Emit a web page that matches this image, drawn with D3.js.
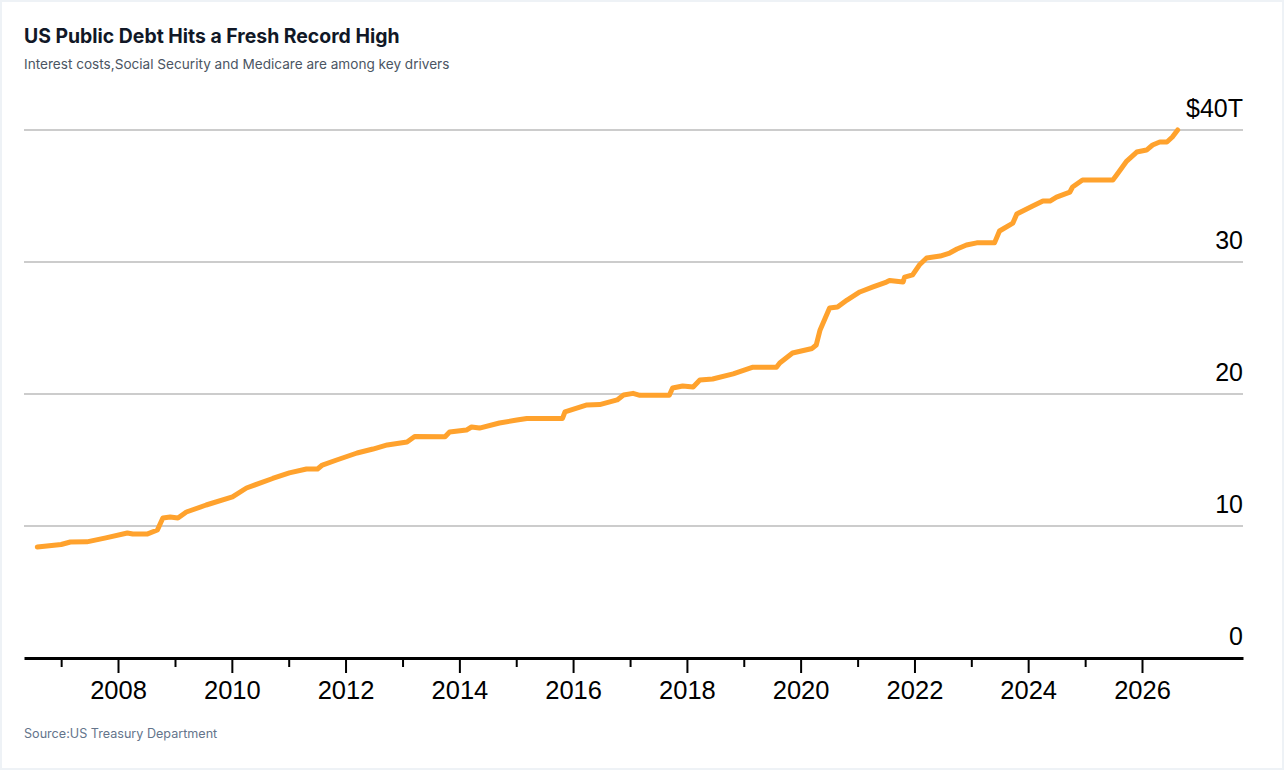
<!DOCTYPE html>
<html>
<head>
<meta charset="utf-8">
<script src="https://cdn.jsdelivr.net/npm/d3@7"></script>
<style>
  html, body { margin: 0; padding: 0; background: #eef2f6; }
  #chart { position: absolute; left: 2px; top: 2px; width: 1280px; height: 766px; background: #fff; }
  svg { display: block; }
</style>
</head>
<body>
<div id="chart"></div>
<script>
// debt outstanding, trillions of dollars
const dates = [
  '2006-08-01', '2007-01-01', '2007-03-01', '2007-06-15', '2007-10-15', '2008-03-01', '2008-04-05',
  '2008-07-05', '2008-09-10', '2008-10-15', '2008-12-01', '2009-01-20', '2009-03-15',
  '2009-07-20', '2010-01-05', '2010-04-05', '2010-09-20', '2011-01-05', '2011-04-25',
  '2011-07-05', '2011-08-05', '2011-11-05', '2012-03-15', '2012-06-25', '2012-09-25',
  '2013-01-30', '2013-03-20', '2013-10-01', '2013-10-30', '2014-02-15', '2014-03-20',
  '2014-05-10', '2014-09-15', '2015-01-05', '2015-03-10', '2015-10-25', '2015-11-10',
  '2016-03-30', '2016-06-20', '2016-10-10', '2016-11-20', '2017-01-20', '2017-03-05',
  '2017-09-10', '2017-10-01', '2017-12-05', '2018-02-10', '2018-03-25', '2018-06-15',
  '2018-10-25', '2019-03-01', '2019-07-30', '2019-08-20', '2019-11-10', '2020-03-15',
  '2020-04-10', '2020-05-05', '2020-07-05', '2020-08-25', '2020-10-25', '2021-01-15',
  '2021-04-10', '2021-07-05', '2021-07-25', '2021-10-20', '2021-10-30', '2021-12-20',
  '2022-02-01', '2022-03-20', '2022-06-15', '2022-08-15', '2022-10-01', '2022-12-01',
  '2023-02-05', '2023-05-30', '2023-07-01', '2023-09-25', '2023-10-20', '2024-01-30',
  '2024-04-05', '2024-05-20', '2024-07-01', '2024-09-25', '2024-10-12', '2024-12-15',
  '2025-06-28', '2025-07-22', '2025-09-25', '2025-11-28', '2026-01-30', '2026-03-10',
  '2026-04-25', '2026-06-10', '2026-07-15', '2026-08-18'
];
const debt = [
  8.41, 8.60, 8.79, 8.80, 9.10, 9.47, 9.39,
  9.39, 9.70, 10.61, 10.68, 10.61, 11.06,
  11.59, 12.20, 12.88, 13.60, 14.02, 14.32,
  14.32, 14.62, 15.00, 15.53, 15.83, 16.14,
  16.36, 16.78, 16.76, 17.12, 17.27, 17.50,
  17.42, 17.80, 18.03, 18.15, 18.15, 18.64,
  19.17, 19.20, 19.55, 19.92, 20.05, 19.90,
  19.90, 20.45, 20.61, 20.53, 21.06, 21.14,
  21.52, 22.03, 22.03, 22.35, 23.11, 23.45,
  23.71, 24.85, 26.52, 26.59, 27.12, 27.73,
  28.11, 28.48, 28.60, 28.48, 28.86, 29.02,
  29.77, 30.30, 30.45, 30.68, 30.98, 31.29,
  31.45, 31.45, 32.35, 32.95, 33.64, 34.24,
  34.62, 34.62, 34.92, 35.30, 35.68, 36.21,
  36.21, 36.59, 37.65, 38.33, 38.48, 38.86,
  39.09, 39.09, 39.47, 40.00
];
const yTicks = [0, 10, 20, 30, 40];
const xYears = d3.range(2007, 2027);

const title = 'US Public Debt Hits a Fresh Record High';
const subtitle = 'Interest costs,Social Security and Medicare are among key drivers';
const source = 'Source:US Treasury Department';

const width = 1280, height = 766;
const plot = { left: 22, right: 1241, top: 128, bottom: 656 };

const parse = d3.timeParse('%Y-%m-%d');
const data = dates.map((d, i) => ({ date: parse(d), value: debt[i] }));

const svg = d3.select('#chart').append('svg')
  .attr('width', width)
  .attr('height', height);

// 2008 and 2026 sit at fixed spots; extend the scale out to the plot edges
const xRef = d3.scaleTime()
  .domain([new Date(2008, 0, 1), new Date(2026, 0, 1)])
  .range([116, 1140]);
const x = d3.scaleTime()
  .domain([xRef.invert(plot.left), xRef.invert(plot.right)])
  .range([plot.left, plot.right]);

const y = d3.scaleLinear()
  .domain([0, 40])
  .range([plot.bottom, plot.top]);

// titles
svg.append('text')
  .attr('x', plot.left).attr('y', 41)
  .style('font-family', 'Inter, sans-serif')
  .style('font-weight', 700)
  .style('font-size', '19.4px')
  .style('fill', '#111827')
  .text(title);

svg.append('text')
  .attr('x', plot.left).attr('y', 67)
  .style('font-family', 'Inter, sans-serif')
  .style('font-size', '13.6px')
  .style('fill', '#4b5563')
  .text(subtitle);

// gridlines
svg.append('g')
  .selectAll('line')
  .data(yTicks.filter(d => d > 0))
  .enter()
  .append('line')
  .attr('x1', plot.left).attr('x2', plot.right)
  .attr('y1', d => y(d)).attr('y2', d => y(d))
  .attr('stroke', '#cccccc')
  .attr('stroke-width', 2);

// y labels, right aligned above each line
svg.append('g')
  .selectAll('text')
  .data(yTicks)
  .enter()
  .append('text')
  .attr('x', plot.right)
  .attr('y', d => y(d) - 13)
  .attr('text-anchor', 'end')
  .style('font-family', '"Liberation Sans", Arial, sans-serif')
  .style('font-size', '25px')
  .style('fill', '#000')
  .text(d => d === 40 ? '$40T' : d);

// x axis
const xAxis = d3.axisBottom(x)
  .tickValues(xYears.map(yr => new Date(yr, 0, 1)))
  .tickSizeOuter(0)
  .tickFormat(d => d.getFullYear() % 2 === 0 ? d.getFullYear() : '');

const gx = svg.append('g')
  .attr('transform', `translate(0,${plot.bottom})`)
  .call(xAxis);

gx.select('.domain')
  .attr('stroke', '#000')
  .attr('stroke-width', 3);

gx.selectAll('.tick line')
  .attr('stroke', '#000')
  .attr('stroke-width', 2)
  .attr('y1', 1)
  .attr('y2', d => d.getFullYear() % 2 === 0 ? 15 : 9);

gx.selectAll('.tick text')
  .attr('y', 23)
  .attr('dy', '0.71em')
  .style('font-family', '"Liberation Sans", Arial, sans-serif')
  .style('font-size', '25.5px')
  .style('fill', '#000');

// debt line
const line = d3.line()
  .x(d => x(d.date))
  .y(d => y(d.value));

svg.append('path')
  .datum(data)
  .attr('d', line)
  .attr('fill', 'none')
  .attr('stroke', '#ffa22d')
  .attr('stroke-width', 5)
  .attr('stroke-linejoin', 'round')
  .attr('stroke-linecap', 'round');

svg.append('text')
  .attr('x', plot.left).attr('y', 736)
  .style('font-family', 'Inter, sans-serif')
  .style('font-size', '12.6px')
  .style('fill', '#64748b')
  .text(source);
</script>
</body>
</html>
